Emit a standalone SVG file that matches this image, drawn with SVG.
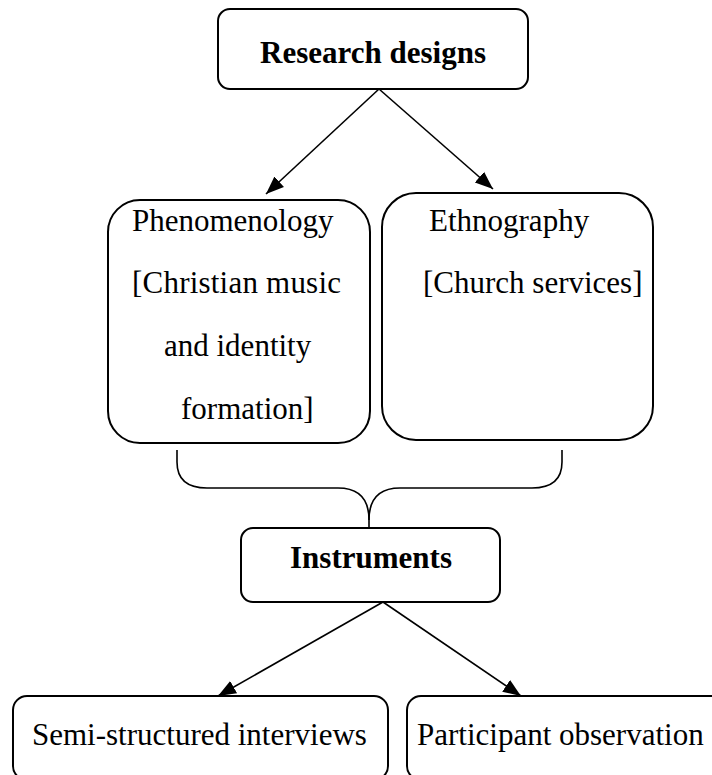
<svg xmlns="http://www.w3.org/2000/svg" width="712" height="775" viewBox="0 0 712 775">
<style>
.box{fill:#fff;stroke:#000;stroke-width:2}
.t{font-family:"Liberation Serif","Times New Roman",serif;font-size:31px;fill:#000}
.b{font-weight:bold}
.c{fill:none;stroke:#000;stroke-width:1.6}
</style>
<defs>
<marker id="ah" markerUnits="userSpaceOnUse" markerWidth="20" markerHeight="20" viewBox="0 0 20 20" refX="18" refY="10" orient="auto">
<path d="M0,3 L18,10 L0,17 Z" fill="#000"/>
</marker>
</defs>
<rect width="712" height="775" fill="#fff"/>
<g id="connectors">
<line class="c" x1="379" y1="89" x2="266" y2="194" marker-end="url(#ah)"/>
<line class="c" x1="379" y1="89" x2="493" y2="189" marker-end="url(#ah)"/>
<path class="c" d="M177,450 V462 Q177,488 207,488 H338 C360,488 369,500 369,520 V528"/>
<path class="c" d="M369,520 C369,500 378,488 400,488 H532 Q562,488 562,462 V450"/>
<line class="c" x1="383" y1="602" x2="218" y2="696" marker-end="url(#ah)"/>
<line class="c" x1="383" y1="602" x2="521" y2="696" marker-end="url(#ah)"/>
</g>
<g id="research-designs">
<rect class="box" x="218" y="9" width="310" height="80" rx="12"/>
<text class="t b" x="373" y="63" text-anchor="middle">Research designs</text>
</g>
<g id="phenomenology">
<rect class="box" x="108" y="200" width="262" height="243" rx="32"/>
<text class="t" x="132" y="231">Phenomenology</text>
<text class="t" x="132" y="293" textLength="209" lengthAdjust="spacing">[Christian music</text>
<text class="t" x="164" y="356">and identity</text>
<text class="t" x="181" y="419">formation]</text>
</g>
<g id="ethnography">
<rect class="box" x="382" y="193" width="271" height="247" rx="34"/>
<text class="t" x="429" y="231">Ethnography</text>
<text class="t" x="423" y="293">[Church services]</text>
</g>
<g id="instruments">
<rect class="box" x="241" y="528" width="259" height="74" rx="12"/>
<text class="t b" x="371" y="568" text-anchor="middle">Instruments</text>
</g>
<g id="semi-structured">
<rect class="box" x="13" y="696" width="375" height="84" rx="14"/>
<text class="t" x="32" y="745">Semi-structured interviews</text>
</g>
<g id="participant">
<rect class="box" x="407" y="696" width="320" height="84" rx="14"/>
<text class="t" x="417" y="745">Participant observation</text>
</g>
</svg>
